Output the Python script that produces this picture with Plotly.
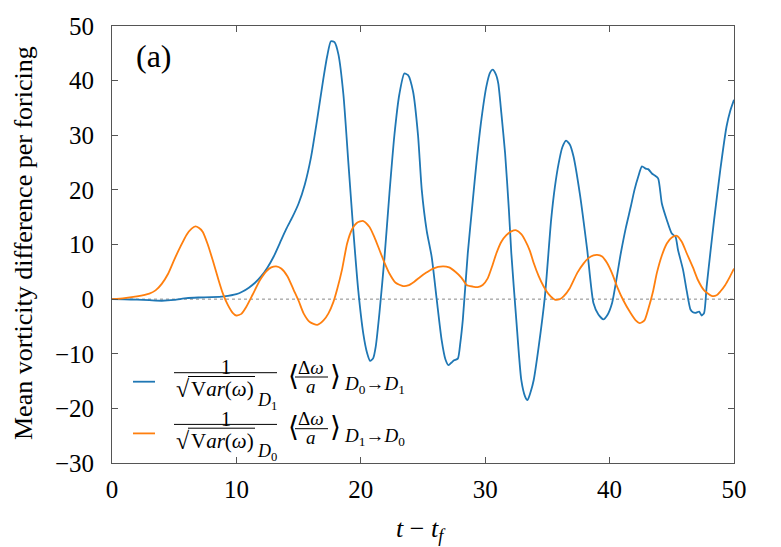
import plotly.graph_objects as go

# dados
x_azul = [0, 1, 2, 3, 4, 5, 6, 7, 8, 9, 10, 10.5, 11, 11.5, 12, 12.5, 13, 13.5, 14, 14.5,
          15, 15.5, 16, 16.5, 17, 17.3, 17.6, 17.9, 18.2, 18.6, 19.0, 19.4, 19.8, 20.2, 20.5,
          20.75, 21.0, 21.2, 21.5, 21.9, 22.3, 22.7, 23.1, 23.5, 23.8, 24.2, 24.6, 24.9, 25.3,
          25.7, 26.1, 26.5, 26.8, 27.05, 27.3, 27.5, 27.8, 28.0, 28.2, 28.6, 29.0, 29.3, 29.7,
          30.1, 30.4, 30.6, 30.85, 31.05, 31.3, 31.6, 31.9, 32.1, 32.5, 32.9, 33.2, 33.4, 33.65,
          33.9, 34.3, 34.8, 35.3, 35.6, 35.9, 36.2, 36.5, 36.8, 37.1, 37.6, 38.2, 38.7, 39.1,
          39.5, 39.8, 40.2, 40.9, 41.3, 41.7, 42.0, 42.3, 42.6, 42.9, 43.1, 43.4, 43.6, 43.9,
          44.2, 44.6, 45.0, 45.3, 45.5, 45.9, 46.2, 46.5, 46.7, 46.9, 47.2, 47.4, 47.6, 47.8,
          48.1, 48.4, 48.9, 49.4, 49.7, 50]
y_azul = [0, -0.05, -0.1, -0.2, -0.3, -0.15, 0.2, 0.3, 0.35, 0.5, 0.9, 1.4, 2.1, 3.0, 4.2, 5.8,
          7.8, 10.3, 12.8, 15.0, 17.5, 21.0, 26.0, 33.0, 40.5, 44.5, 47.2, 47.0, 44.8, 37.5, 25.0,
          12.5, 1.5, -6.3, -9.8, -11.3, -10.8, -8.7, -2.5, 7.5, 19.3, 30.0, 37.5, 41.3, 41.0,
          38.0, 30.0, 20.0, 12.5, 7.7, 0.0, -7.5, -11.0, -12.1, -11.6, -11.2, -10.9, -8.0, -3.8,
          8.4, 18.0, 25.0, 33.0, 39.0, 41.5, 42.0, 41.2, 39.5, 34.0, 26.7, 16.5, 8.4, -3.8,
          -14.8, -17.8, -18.5, -17.0, -14.8, -8.7, 0.5, 14.5, 20.5, 24.8, 27.8, 29.0, 28.3, 26.1,
          19.4, 9.0, -0.7, -2.8, -3.7, -3.0, -0.7, 8.4, 13.0, 16.9, 20.0, 22.4, 24.3, 23.9, 23.8,
          23.0, 22.7, 22.1, 17.5, 14.5, 12.0, 11.4, 9.0, 5.4, 1.5, -1.9, -2.4, -2.5, -2.3, -3.0,
          -2.5, 2.3, 8.5, 14.5, 23.7, 31.6, 34.5, 36.5]

x_laranja = [0, 1, 2, 3, 3.5, 4, 4.5, 5, 5.5, 6, 6.4, 6.7, 7.0, 7.3, 7.7, 8.1, 8.5, 8.9, 9.3,
             9.7, 10.0, 10.4, 10.8, 11.3, 11.9, 12.4, 12.8, 13.2, 13.6, 14.1, 14.6, 15.0, 15.4,
             15.9, 16.5, 17.0, 17.4, 17.8, 18.1, 18.5, 18.9, 19.3, 19.7, 20.2, 20.7, 21.1, 21.5,
             21.9, 22.3, 22.8, 23.4, 23.8, 24.3, 24.8, 25.3, 25.8, 26.6, 27.1, 27.6, 28.1, 28.5,
             29.0, 29.4, 29.8, 30.2, 30.6, 30.9, 31.3, 31.7, 32.1, 32.5, 32.9, 33.2, 33.6, 33.9,
             34.3, 34.7, 35.1, 35.6, 36.0, 36.3, 36.8, 37.4, 37.9, 38.3, 38.7, 39.0, 39.4, 39.8,
             40.2, 40.6, 41.1, 41.7, 42.1, 42.4, 42.8, 43.1, 43.5, 43.8, 44.2, 44.6, 45.0, 45.4,
             45.8, 46.2, 46.7, 47.1, 47.6, 48.2, 48.6, 48.9, 49.3, 49.6, 50]
y_laranja = [0, 0.2, 0.5, 1.0, 1.6, 2.8, 4.6, 7.2, 9.6, 11.8, 12.9, 13.3, 13.0, 12.3, 10.0, 7.1,
             4.0, 1.1, -1.0, -2.5, -3.0, -2.7, -1.4, 0.8, 3.5, 5.1, 5.8, 6.0, 5.6, 4.2, 1.7, -0.3,
             -2.6, -4.2, -4.7, -3.9, -2.6, -0.5, 1.8, 5.5, 10.2, 12.8, 14.0, 14.3, 13.2, 11.3, 9.0,
             6.7, 4.7, 3.0, 2.4, 2.5, 3.2, 4.1, 4.9, 5.6, 6.0, 5.8, 5.0, 3.9, 2.6, 2.3, 2.2, 2.6,
             3.8, 6.3, 8.4, 10.5, 11.7, 12.4, 12.6, 11.9, 10.8, 8.8, 6.6, 4.2, 2.3, 0.9, -0.1, 0.0,
             0.5, 2.0, 4.8, 6.5, 7.5, 8.0, 8.1, 7.8, 6.6, 4.7, 2.3, -0.2, -2.6, -3.9, -4.4, -3.9,
             -1.9, 1.5, 4.8, 8.0, 10.2, 11.3, 11.6, 10.5, 8.4, 5.8, 3.5, 1.6, 0.6, 0.7, 1.4, 2.6,
             3.8, 5.6]

assert len(x_azul) == len(y_azul)
assert len(x_laranja) == len(y_laranja)

azul = '#1f77b4'
laranja = '#ff7f0e'
fonte = 'Liberation Serif, DejaVu Serif, serif'

fig = go.Figure()
fig.add_scatter(x=x_azul, y=y_azul, mode='lines', line=dict(color=azul, width=1.8, shape='spline', smoothing=0.6))
fig.add_scatter(x=x_laranja, y=y_laranja, mode='lines', line=dict(color=laranja, width=1.8, shape='spline', smoothing=0.6))

# linha pontilhada em zero
fig.add_shape(type='line', xref='paper', x0=0, x1=1, yref='y', y0=0, y1=0,
              line=dict(color='#888', width=1, dash='dot'), layer='below')

# area do grafico em pixels da pagina (o body do html tem margem de 8px)
L, R, T, B = 112, 734, 26, 463
OFF = 8


def P(px, py):
    return (px - L) / (R - L), (B - py) / (B - T)


def texto(px, py, s, size, xanchor='center', angle=0):
    x, y = P(px, py)
    fig.add_annotation(x=x, y=y, xref='paper', yref='paper', text=s, showarrow=False,
                       xanchor=xanchor, yanchor='middle', textangle=angle,
                       font=dict(family=fonte, size=size, color='black'))


def traco(x0, x1, py, cor='black', w=1):
    a, y = P(x0, py)
    b, _ = P(x1, py)
    fig.add_shape(type='line', xref='paper', yref='paper', x0=a, x1=b, y0=y, y1=y,
                  line=dict(color=cor, width=w))


def legenda(dy, cor, d_den, d_de, d_para):
    traco(133, 155, 381.7 + dy, cor, 1.8)
    texto(226, 367 + dy, '1', 20)
    traco(174, 277, 372.7 + dy)
    texto(174, 389 + dy, '√', 24, 'left')
    traco(188, 255, 376.5 + dy)
    texto(189, 389 + dy, 'V<i>ar</i>(<i>ω</i>)', 21, 'left')
    texto(255, 401 + dy, '<i>D</i><sub>%s</sub>' % d_den, 18, 'left')
    texto(293, 375 + dy, '⟨', 28)
    texto(311, 367 + dy, 'Δ<i>ω</i>', 19)
    traco(295, 328, 377 + dy)
    texto(311, 386 + dy, '<i>a</i>', 19)
    texto(335, 375 + dy, '⟩', 28)
    texto(342, 385 + dy, '<i>D</i><sub>%s</sub>→<i>D</i><sub>%s</sub>' % (d_de, d_para), 19, 'left')


legenda(0, azul, '1', '0', '1')
legenda(51.7, laranja, '0', '1', '0')

texto(154, 56, '(a)', 32)

# titulos dos eixos
texto(421, 530, '<i>t</i> − <i>t</i><sub><i>f</i></sub>', 26)
texto(24, 243, 'Mean vorticity difference per foricing', 26, angle=-90)

eixo = dict(showline=True, mirror='ticks', linecolor='#555', linewidth=1, ticks='inside',
            ticklen=6, tickcolor='#555', showgrid=False, zeroline=False, automargin=False,
            tickfont=dict(family=fonte, size=25, color='black'))

fig.update_layout(
    width=781, height=547, showlegend=False,
    plot_bgcolor='white', paper_bgcolor='white',
    margin=dict(l=L - OFF, r=781 - R + OFF, t=T - OFF, b=547 - B + OFF),
    xaxis=dict(range=[0, 50], tickvals=[0, 10, 20, 30, 40, 50], **eixo),
    yaxis=dict(range=[-30, 50], tickvals=[-30, -20, -10, 0, 10, 20, 30, 40, 50],
               ticktext=['−30', '−20', '−10', '0', '10', '20', '30', '40', '50'], **eixo),
)
fig.update_xaxes(ticklabelstandoff=4)
fig.update_yaxes(ticklabelstandoff=12)

fig.write_html('out.html')
